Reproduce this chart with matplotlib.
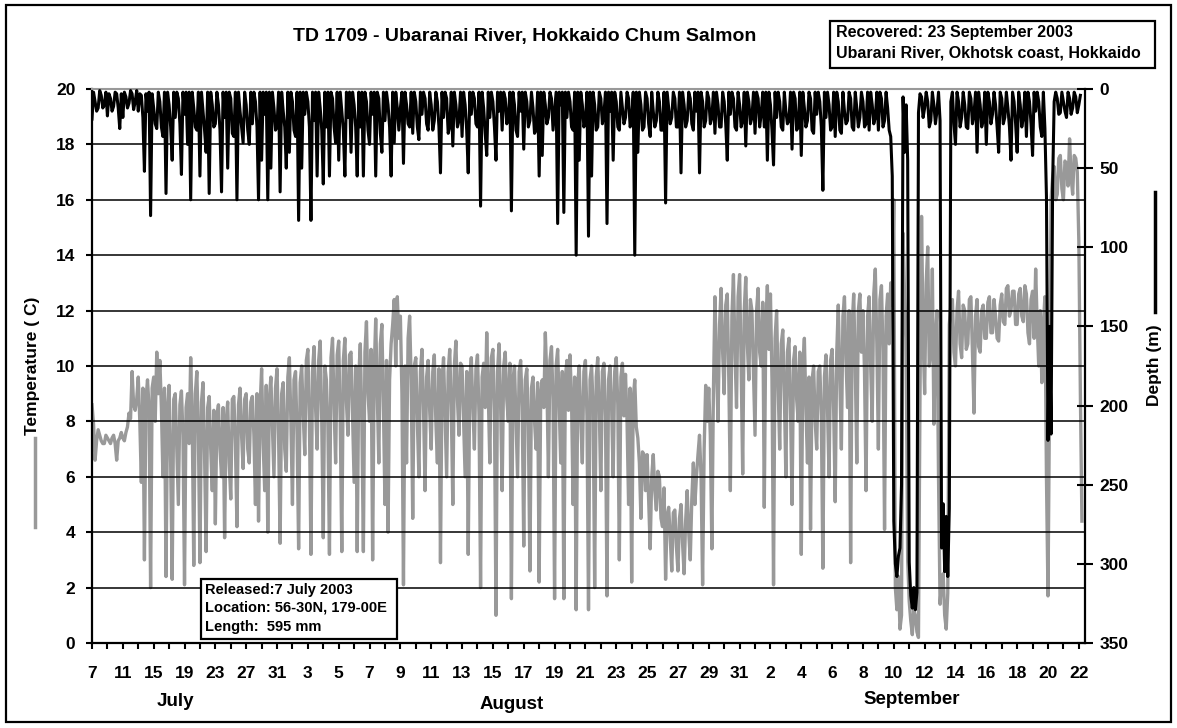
import numpy as np
import matplotlib
matplotlib.use("Agg")
import matplotlib.pyplot as plt
from matplotlib.patches import Rectangle
from matplotlib.lines import Line2D

plt.rcParams['font.family'] = ['Liberation Sans', 'DejaVu Sans']
plt.rcParams['font.weight'] = 'bold'

W, H = 1177, 728

# temperature (C), 20 samples per day-label interval
temp_c = [
    8.6, 7.9, 6.6, 7.3, 7.7, 7.5, 7.3, 7.2, 7.2, 7.5, 7.4, 7.3, 7.2, 7.4, 7.5, 7.2, 6.6, 7.3, 7.4, 7.6,
    7.4, 7.3, 7.6, 7.8, 8.3, 8.1, 9.8, 8.6, 8.4, 8.8, 9.6, 8.0, 5.8, 9.2, 3.0, 8.8, 9.5, 8.5, 2.0, 9.2,
    9.6, 8.0, 10.5, 9.0, 10.2, 8.5, 6.0, 9.2, 2.4, 8.5, 9.3, 6.5, 2.3, 8.8, 9.0, 7.0, 5.0, 8.6, 9.1, 7.5,
    2.1, 8.5, 9.0, 7.2, 10.3, 8.0, 2.8, 9.0, 9.8, 7.5, 2.9, 8.7, 9.4, 6.8, 3.3, 8.5, 8.9, 7.0, 5.5, 8.4,
    4.3, 8.2, 8.6, 7.0, 6.0, 8.5, 3.8, 8.0, 8.7, 6.5, 5.2, 8.8, 8.9, 7.2, 4.2, 8.6, 9.2, 7.5, 6.3, 8.8,
    9.0, 7.0, 6.5, 8.7, 8.9, 7.5, 5.0, 9.0, 4.4, 8.5, 9.9, 7.2, 5.5, 9.3, 4.0, 8.8, 9.6, 7.8, 6.0, 9.2,
    9.9, 7.5, 3.6, 9.0, 9.4, 7.0, 6.2, 9.6, 10.3, 8.0, 5.0, 9.5, 9.8, 7.5, 3.4, 9.4, 10.0, 8.2, 6.8, 10.2,
    10.6, 8.0, 3.2, 9.8, 10.7, 8.5, 7.0, 10.2, 10.9, 8.0, 3.8, 10.0, 9.5, 7.8, 3.2, 10.3, 11.0, 8.5, 6.5, 10.4,
    10.9, 8.0, 3.3, 10.2, 11.0, 8.7, 7.5, 10.4, 10.5, 8.2, 5.8, 10.0, 3.3, 9.6, 10.8, 8.0, 3.3, 10.5, 11.6, 9.0,
    8.0, 10.6, 3.0, 9.8, 11.7, 9.0, 6.5, 10.8, 11.5, 8.5, 5.0, 10.2, 4.0, 9.5, 10.8, 11.5, 12.4, 10.0, 12.5, 11.0,
    11.8, 9.0, 2.1, 10.0, 6.5, 11.0, 11.8, 9.5, 4.5, 10.0, 10.3, 8.0, 6.0, 9.8, 10.6, 8.5, 5.5, 9.6, 10.2, 8.4,
    7.0, 9.8, 10.4, 8.0, 6.5, 9.9, 2.9, 9.5, 10.3, 8.2, 6.0, 9.8, 10.6, 8.5, 5.0, 10.0, 10.9, 8.8, 7.5, 10.1,
    10.0, 8.0, 6.0, 9.8, 3.2, 9.5, 10.3, 8.5, 7.0, 9.9, 10.4, 8.2, 2.0, 9.6, 10.1, 8.5, 11.2, 9.0, 6.5, 10.3,
    10.6, 8.4, 1.0, 9.8, 10.8, 8.6, 5.5, 10.0, 10.5, 8.8, 8.0, 10.1, 1.6, 9.5, 10.0, 8.0, 6.0, 9.8, 10.2, 8.5,
    3.5, 9.5, 9.9, 7.8, 2.6, 9.2, 9.6, 8.0, 7.0, 9.4, 2.2, 9.0, 9.5, 8.5, 11.2, 9.5, 6.0, 10.2, 10.7, 8.8,
    1.6, 10.0, 10.6, 8.5, 6.5, 9.8, 1.6, 9.6, 10.2, 8.4, 10.4, 8.8, 5.0, 9.6, 1.2, 9.4, 10.0, 8.0, 6.5, 9.8,
    10.2, 8.2, 1.2, 9.5, 10.0, 8.5, 2.0, 9.6, 10.3, 8.4, 5.5, 9.8, 10.1, 8.2, 1.7, 9.5, 10.0, 8.5, 6.0, 9.8,
    10.3, 8.6, 3.0, 9.6, 10.1, 8.2, 9.7, 8.0, 5.0, 9.2, 2.2, 8.8, 9.5, 7.8, 7.4, 6.5, 4.5, 6.9, 6.8, 5.5,
    6.8, 5.2, 3.4, 6.0, 6.8, 5.5, 4.8, 6.2, 6.0, 4.5, 4.2, 5.6, 2.3, 4.6, 4.9, 3.8, 2.6, 4.7, 4.8, 3.5,
    2.6, 4.5, 5.0, 3.6, 2.5, 4.4, 5.5, 4.0, 3.0, 5.2, 6.5, 5.0, 6.0, 6.8, 7.5, 6.0, 2.1, 7.0, 9.3, 8.0,
    9.2, 7.5, 3.4, 9.0, 12.5, 10.0, 8.0, 11.5, 12.8, 10.5, 9.0, 12.2, 12.6, 9.5, 5.5, 11.8, 13.3, 10.5, 8.5, 12.5,
    13.3, 10.0, 6.1, 12.0, 13.2, 10.8, 9.5, 12.4, 12.0, 9.8, 7.5, 12.0, 12.8, 10.5, 10.0, 12.3, 4.9, 11.5, 12.9, 10.6,
    12.6, 9.5, 2.1, 11.0, 12.0, 9.2, 7.0, 10.8, 11.3, 9.0, 6.0, 10.5, 11.0, 8.5, 5.0, 10.2, 10.7, 8.8, 8.0, 10.5,
    3.2, 10.0, 11.0, 8.5, 6.5, 9.6, 4.1, 9.5, 10.0, 8.0, 7.0, 9.8, 10.0, 8.2, 2.7, 9.6, 10.4, 8.5, 6.0, 10.2,
    10.6, 8.4, 5.1, 10.5, 12.2, 9.5, 7.0, 11.8, 12.5, 10.2, 8.5, 12.0, 2.9, 11.5, 12.6, 10.0, 6.5, 12.0, 12.6, 10.5,
    12.0, 9.8, 5.5, 11.8, 12.5, 10.0, 8.0, 12.6, 13.5, 10.8, 7.0, 12.4, 12.9, 10.5, 4.1, 11.8, 12.6, 10.8, 13.0, 12.2,
    16.0, 2.0, 1.2, 2.4, 0.5, 1.0, 14.8, 12.5, 11.0, 3.0, 1.5, 0.8, 0.3, 1.2, 1.0, 0.4, 0.2, 9.0, 15.4, 11.0,
    9.0, 13.0, 14.3, 10.0, 10.5, 13.5, 7.9, 11.0, 12.0, 6.0, 1.4, 2.2, 2.5, 1.0, 0.5, 1.8, 11.5, 12.2, 12.4, 10.5,
    10.0, 12.0, 12.7, 10.8, 10.3, 12.2, 12.0, 10.6, 10.8, 12.4, 12.5, 10.5, 8.3, 11.8, 12.4, 10.7, 10.5, 12.0, 12.2, 11.0,
    11.0, 12.3, 12.5, 11.2, 11.2, 12.4, 11.8, 11.0, 10.9, 12.2, 12.6, 11.6, 11.5, 12.8, 12.9, 11.8, 12.0, 12.7, 12.7, 11.5,
    11.5, 12.6, 12.8, 11.8, 11.6, 12.9, 12.6, 11.2, 10.8, 12.4, 12.7, 11.0, 13.5, 11.5, 10.0, 12.0, 9.4, 11.5, 12.5, 6.0,
    1.7, 9.0, 16.0, 16.8, 17.2, 16.0, 16.2, 17.5, 17.6, 16.4, 16.0, 17.4, 17.3, 16.5, 18.2, 16.8, 16.2, 17.6, 17.5, 17.0,
    14.5, 9.0, 4.4,
]

# depth (m), same sampling
depth_m = [
    19, 2, 8, 14, 12, 1, 4, 12, 10, 2, 17, 3, 6, 14, 11, 2, 3, 12, 25, 3,
    18, 2, 5, 12, 9, 1, 3, 13, 8, 1, 14, 3, 4, 18, 52, 3, 14, 2, 80, 3,
    12, 22, 25, 2, 8, 24, 30, 2, 66, 2, 10, 24, 45, 2, 18, 2, 6, 22, 54, 2,
    16, 2, 35, 2, 70, 2, 12, 24, 26, 2, 55, 2, 14, 26, 40, 2, 66, 2, 10, 24,
    22, 2, 10, 26, 65, 2, 18, 2, 50, 2, 6, 28, 30, 2, 70, 2, 14, 24, 34, 2,
    10, 26, 35, 2, 22, 2, 8, 24, 70, 2, 45, 2, 16, 2, 70, 2, 50, 2, 12, 26,
    24, 2, 65, 2, 14, 24, 50, 2, 40, 2, 8, 26, 30, 2, 83, 2, 50, 2, 16, 2,
    8, 24, 83, 2, 20, 2, 55, 2, 12, 26, 60, 2, 24, 2, 55, 2, 6, 24, 34, 2,
    45, 2, 14, 26, 55, 2, 18, 2, 40, 2, 10, 24, 55, 2, 24, 2, 55, 2, 8, 26,
    35, 2, 16, 2, 55, 2, 6, 28, 40, 2, 20, 2, 10, 24, 55, 2, 34, 2, 12, 26,
    12, 2, 47, 2, 10, 22, 24, 2, 28, 2, 8, 24, 32, 2, 16, 2, 6, 22, 26, 2,
    10, 26, 20, 2, 8, 24, 53, 2, 18, 2, 6, 28, 24, 2, 36, 2, 10, 24, 20, 2,
    30, 2, 10, 26, 53, 2, 16, 2, 6, 22, 24, 2, 74, 2, 12, 28, 42, 2, 18, 2,
    8, 24, 45, 2, 14, 2, 26, 2, 6, 22, 18, 2, 77, 2, 10, 26, 30, 2, 14, 2,
    38, 2, 8, 24, 20, 2, 12, 28, 26, 2, 55, 2, 42, 2, 10, 22, 18, 2, 6, 26,
    14, 2, 85, 2, 10, 2, 78, 2, 18, 2, 8, 24, 26, 2, 105, 2, 45, 2, 10, 24,
    20, 2, 93, 2, 55, 2, 10, 26, 24, 2, 6, 22, 16, 2, 85, 2, 14, 2, 45, 2,
    8, 24, 26, 2, 12, 22, 18, 2, 6, 24, 20, 2, 105, 2, 40, 2, 10, 26, 24, 2,
    6, 22, 30, 2, 14, 24, 20, 2, 8, 26, 26, 2, 72, 2, 12, 22, 18, 2, 6, 24,
    24, 2, 53, 2, 10, 24, 20, 2, 6, 22, 26, 2, 14, 2, 53, 2, 8, 24, 20, 2,
    6, 22, 18, 2, 28, 2, 10, 24, 24, 2, 8, 22, 45, 2, 16, 2, 6, 24, 26, 2,
    10, 24, 20, 2, 36, 2, 8, 22, 18, 2, 28, 2, 6, 24, 16, 2, 24, 2, 45, 2,
    10, 26, 48, 2, 18, 2, 8, 24, 26, 2, 14, 22, 20, 2, 38, 2, 6, 26, 24, 2,
    42, 2, 12, 24, 20, 2, 6, 26, 28, 2, 16, 2, 8, 24, 64, 2, 18, 2, 10, 26,
    24, 2, 30, 2, 8, 26, 28, 2, 14, 22, 20, 2, 6, 24, 26, 2, 12, 24, 18, 2,
    8, 24, 22, 2, 26, 2, 10, 22, 18, 2, 26, 2, 6, 24, 20, 2, 12, 26, 30, 55,
    273, 300, 308, 295, 290, 250, 5, 40, 10, 45, 299, 320, 328, 315, 329, 318, 15, 3, 5, 18,
    12, 2, 8, 24, 20, 2, 10, 22, 14, 2, 20, 290, 262, 305, 270, 308, 265, 8, 2, 22,
    35, 2, 8, 24, 18, 2, 10, 24, 25, 2, 6, 22, 16, 2, 40, 2, 10, 24, 20, 2,
    35, 2, 8, 22, 16, 2, 10, 24, 40, 2, 6, 22, 18, 2, 12, 24, 45, 2, 8, 22,
    40, 2, 10, 24, 18, 2, 30, 2, 8, 22, 42, 2, 14, 2, 8, 24, 30, 2, 25, 68,
    222, 150, 218, 60, 8, 2, 6, 16, 15, 2, 8, 14, 18, 2, 6, 16, 12, 2, 5, 15,
    10, 4,
]

day_labels = ["7", "11", "15", "19", "23", "27", "31",
              "3", "5", "7", "9", "11", "13", "15", "17", "19", "21",
              "23", "25", "27", "29", "31",
              "2", "4", "6", "8", "10", "12", "14", "16", "18", "20", "22"]
months = ["July", "August", "September"]
month_x = [175, 512, 912]
month_y = [706, 709, 704]

per_label = 20  # samples between two day labels
x_end = 644


def fx(px):
    return px / W


def fy(py):
    return 1 - py / H


fig = plt.figure(figsize=(W / 100, H / 100), dpi=100)
ax = fig.add_axes([fx(92), fy(643), (1085 - 92) / W, (643 - 89) / H])

grey = '#999999'
ax.plot(np.arange(len(temp_c)), temp_c, color=grey, lw=2.4, zorder=2)
ax.set_xlim(0, x_end)
ax.set_ylim(0, 20)
ax.set_yticks(np.arange(0, 21, 2))
for v in range(2, 20, 2):
    ax.axhline(v, color='black', lw=1.1, zorder=3)

ax.set_xticks(np.arange(0, len(day_labels) * per_label, per_label))
ax.set_xticklabels(day_labels)
ax.set_xticks(np.arange(per_label // 2, x_end, per_label), minor=True)
ax.tick_params(axis='x', which='both', direction='out', length=4.5, width=1.5, pad=12,
               labelsize=12.5)
ax.tick_params(axis='y', direction='out', length=4, width=1.5, pad=8, labelsize=12.5)
ax.spines['top'].set_color(grey)
ax.spines['top'].set_linewidth(1.5)
for s in ['left', 'bottom']:
    ax.spines[s].set_linewidth(1.6)
ax.spines['right'].set_visible(False)

ax2 = ax.twinx()
ax2.plot(np.arange(len(depth_m)), depth_m, color='black', lw=2.2)
ax2.set_ylim(350, 0)
ax2.set_yticks(np.arange(0, 351, 50))
ax2.tick_params(axis='y', direction='inout', length=11, width=1.5, pad=5, labelsize=12.5)
for s in ['left', 'top', 'bottom']:
    ax2.spines[s].set_visible(False)
ax2.spines['right'].set_linewidth(1.6)
ax2.set_xlim(0, x_end)

# axis titles with series keys
fig.text(fx(33), fy(366), "Temperature ( C)", rotation=90, ha='center', va='center',
         fontsize=12.5)
fig.lines.append(Line2D([fx(35), fx(35)], [fy(438), fy(527)], color=grey, lw=2.5,
                        transform=fig.transFigure))
fig.text(fx(1154), fy(365), "Depth (m)", rotation=90, ha='center', va='center',
         fontsize=12.5)
fig.lines.append(Line2D([fx(1155), fx(1155)], [fy(192), fy(312)], color='black', lw=2.5,
                        transform=fig.transFigure))

for name, mx, my in zip(months, month_x, month_y):
    fig.text(fx(mx), fy(my), name, ha='center', va='baseline', fontsize=13.5)

fig.text(fx(525), fy(37), "TD 1709 - Ubaranai River, Hokkaido Chum Salmon",
         ha='center', va='center', fontsize=14)

# info boxes
fig.patches.append(Rectangle((fx(830), fy(68)), (1155 - 830) / W, (68 - 21) / H,
                             fill=False, lw=1.6, ec='black', transform=fig.transFigure))
fig.text(fx(836), fy(33), "Recovered: 23 September 2003", va='center', fontsize=11.5)
fig.text(fx(836), fy(53), "Ubarani River, Okhotsk coast, Hokkaido", va='center',
         fontsize=11.5)

fig.patches.append(Rectangle((fx(201), fy(639)), (397 - 201) / W, (639 - 579) / H,
                             fill=True, fc='white', lw=1.6, ec='black',
                             transform=fig.transFigure, zorder=5))
fig.text(fx(205), fy(590), "Released:7 July 2003", va='center', fontsize=10.5, zorder=6)
fig.text(fx(205), fy(608), "Location: 56-30N, 179-00E", va='center', fontsize=10.5,
         zorder=6)
fig.text(fx(205), fy(627), "Length:  595 mm", va='center', fontsize=10.5, zorder=6)

# outer border
fig.patches.append(Rectangle((fx(6), fy(722)), (1171 - 6) / W, (722 - 5) / H,
                             fill=False, lw=1.6, ec='black', transform=fig.transFigure))

fig.savefig("out.png", dpi=100)
